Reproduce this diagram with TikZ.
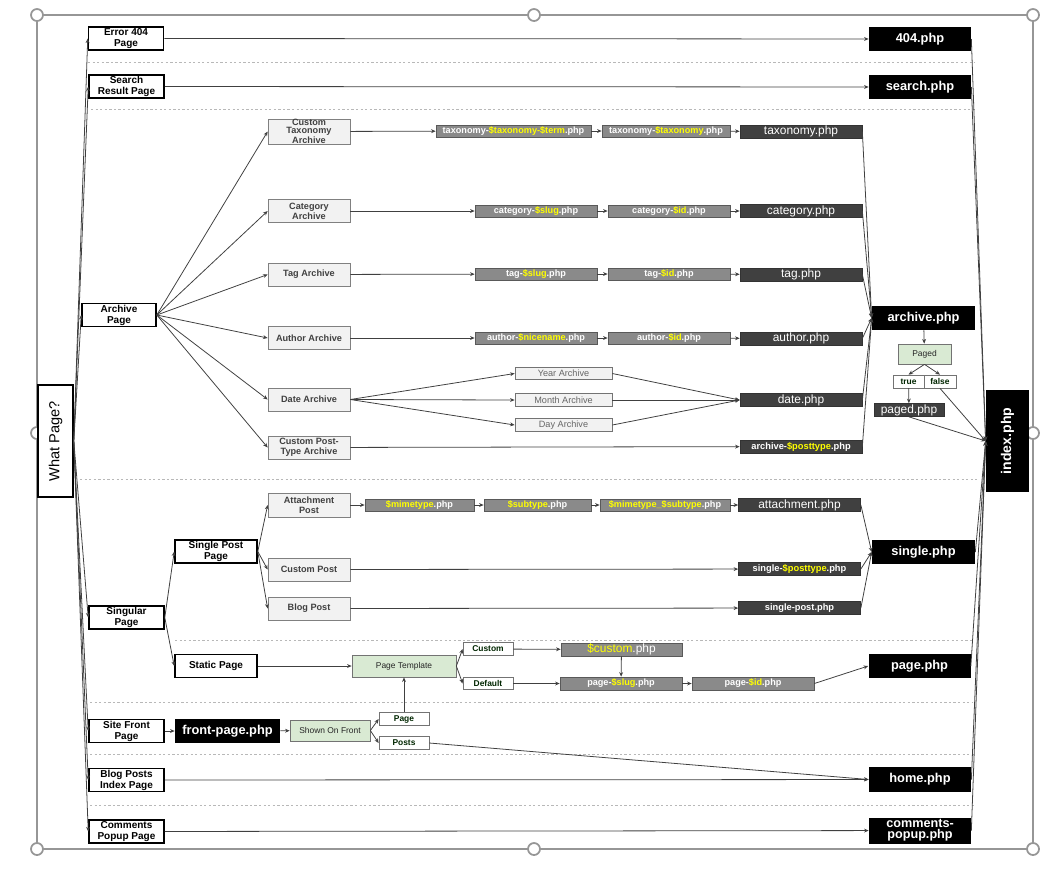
\documentclass[tikz,border=0pt]{standalone}
\usepackage{fontspec}
\setmainfont{Liberation Sans}
\usepackage{xcolor}
\usetikzlibrary{arrows.meta}

\definecolor{tplgray}{RGB}{138,138,138}
\definecolor{filedark}{RGB}{64,64,64}
\definecolor{kindfill}{RGB}{242,242,242}
\definecolor{pagedgreen}{RGB}{217,234,211}
\definecolor{varyellow}{RGB}{255,255,0}
\definecolor{handlegray}{RGB}{150,150,150}

\newcommand{\tplvar}[1]{\textcolor{varyellow}{#1}}

\tikzset{
  pagebox/.style={draw, line width=0.9pt, fill=white, minimum width=1.5cm, minimum height=0.46cm,
    inner sep=0pt, align=center, font=\fontsize{5.7}{6.2}\selectfont\bfseries},
  kindbox/.style={draw=black!50, fill=kindfill, minimum width=1.64cm, minimum height=0.46cm,
    inner sep=0pt, align=center, text=black!75, font=\fontsize{5.2}{5.8}\selectfont\bfseries},
  datebox/.style={draw=black!55, fill=kindfill, minimum width=1.94cm, minimum height=0.25cm,
    inner sep=0pt, text=black!60, font=\fontsize{5.2}{6}\selectfont},
  tplbox/.style={draw=black!65, fill=tplgray, minimum height=0.24cm, inner sep=0pt,
    text=white, font=\fontsize{5.2}{6}\selectfont\bfseries},
  filebox/.style={draw=black!80, fill=filedark, minimum width=2.44cm, minimum height=0.26cm,
    inner sep=0pt, text=white, font=\fontsize{6.8}{7}\selectfont},
  mainbox/.style={fill=black, minimum width=2.04cm, minimum height=0.48cm, inner sep=0pt,
    align=center, text=white, font=\fontsize{7.3}{7}\selectfont\bfseries},
  greenbox/.style={draw=black!55, fill=pagedgreen, inner sep=0pt, text=black!85,
    font=\fontsize{4.8}{5.5}\selectfont},
  optbox/.style={draw=black!55, fill=white, minimum width=1.0cm, minimum height=0.25cm,
    inner sep=0pt, text=green!15!black, font=\fontsize{4.8}{5.5}\selectfont\bfseries},
  wire/.style={->, line width=0.45pt, draw=black!75},
  divider/.style={draw=black!28, line width=0.5pt, dash pattern=on 1.3pt off 1.3pt},
  >={Stealth[length=2.6pt,width=2.2pt]}
}

\begin{document}
\begin{tikzpicture}[x=0.02cm, y=-0.02cm]
    \useasboundingbox (0,0) rectangle (1047,870);

    % Frame with handles
    \draw[handlegray, line width=0.6pt] (37,15) rectangle (1033,849);
    \foreach \hx/\hy in {37/15, 534/15, 1033/15, 37/433, 1033/433, 37/849, 534/849, 1033/849}
        \draw[handlegray, line width=1pt, fill=white] (\hx,\hy) circle (0.12cm);

    % Dividers
    \draw[divider] (88,62) -- (975,62);
    \draw[divider] (91,109) -- (975,109);
    \draw[divider] (80,479) -- (977,479);
    \draw[divider] (175,640) -- (973,640);
    \draw[divider] (90,702) -- (973,702);
    \draw[divider] (90,754) -- (975,754);
    \draw[divider] (90,805) -- (975,805);

    % Page kinds
    \node[pagebox, minimum width=0.7cm, minimum height=2.24cm, font=\fontsize{8.3}{9}\selectfont] (what) at (55.5,441) {\rotatebox{90}{What Page?}};
    \node[pagebox] (err) at (126,38.5) {Error 404\\Page};
    \node[pagebox] (search) at (126.5,86.5) {Search\\Result Page};
    \node[pagebox, minimum width=1.48cm] (arch) at (119,315) {Archive\\Page};
    \node[pagebox] (sing) at (126.5,617.5) {Singular\\Page};
    \node[pagebox, minimum width=1.64cm] (post) at (216,551.5) {Single Post\\Page};
    \node[pagebox, minimum width=1.64cm] (static) at (216,666) {Static Page};
    \node[pagebox] (front) at (126.5,731) {Site Front\\Page};
    \node[pagebox] (blog) at (126.5,780) {Blog Posts\\Index Page};
    \node[pagebox] (comm) at (126.5,831.5) {Comments\\Popup Page};

    % Archive and post kinds
    \node[kindbox, font=\fontsize{5.2}{4.7}\selectfont\bfseries] (ktax) at (309,131.5) {Custom\\Taxonomy\\Archive};
    \node[kindbox] (kcat) at (309,211) {Category\\Archive};
    \node[kindbox] (ktag) at (309,274.5) {Tag Archive};
    \node[kindbox] (kauth) at (309,338) {Author Archive};
    \node[kindbox] (kdate) at (309,399.5) {Date Archive};
    \node[kindbox] (kcpt) at (309,447.5) {Custom Post-\\Type Archive};
    \node[kindbox, minimum height=0.48cm] (katt) at (309,505) {Attachment\\Post};
    \node[kindbox] (kcust) at (309,569.5) {Custom Post};
    \node[kindbox] (kblog) at (309,608.5) {Blog Post};

    % Date archives
    \node[datebox] (year) at (563.5,373.5) {Year Archive};
    \node[datebox] (month) at (563.5,400) {Month Archive};
    \node[datebox] (day) at (563.5,425) {Day Archive};

    % Specific templates
    \node[tplbox, minimum width=3.1cm] (taxterm) at (513.5,131) {taxonomy-\tplvar{\$taxonomy-\$term}.php};
    \node[tplbox, minimum width=2.56cm] (taxonly) at (666,131) {taxonomy-\tplvar{\$taxonomy}.php};
    \node[tplbox, minimum width=2.44cm] (catslug) at (536,211) {category-\tplvar{\$slug}.php};
    \node[tplbox, minimum width=2.44cm] (catid) at (669,211) {category-\tplvar{\$id}.php};
    \node[tplbox, minimum width=2.44cm] (tagslug) at (536,274) {tag-\tplvar{\$slug}.php};
    \node[tplbox, minimum width=2.44cm] (tagid) at (669,274) {tag-\tplvar{\$id}.php};
    \node[tplbox, minimum width=2.44cm] (authnice) at (536,338) {author-\tplvar{\$nicename}.php};
    \node[tplbox, minimum width=2.44cm] (authid) at (669,338) {author-\tplvar{\$id}.php};
    \node[tplbox, minimum width=2.18cm] (mime) at (419.5,505) {\tplvar{\$mimetype}.php};
    \node[tplbox, minimum width=2.14cm] (subt) at (537.5,505) {\tplvar{\$subtype}.php};
    \node[tplbox, minimum width=2.6cm] (mimesub) at (665,505) {\tplvar{\$mimetype\_\$subtype}.php};
    \node[tplbox, minimum width=2.42cm, minimum height=0.26cm, font=\fontsize{6.8}{7}\selectfont] (custphp) at (621.5,649.5) {\tplvar{\$custom}.php};
    \node[tplbox, minimum width=2.44cm, minimum height=0.26cm] (pgslug) at (621,683.5) {page-\tplvar{\$slug}.php};
    \node[tplbox, minimum width=2.44cm, minimum height=0.26cm] (pgid) at (753,683.5) {page-\tplvar{\$id}.php};

    % Type templates
    \node[filebox] (ftax) at (801,131.5) {taxonomy.php};
    \node[filebox] (fcat) at (801,211) {category.php};
    \node[filebox] (ftag) at (801,274.5) {tag.php};
    \node[filebox] (fauth) at (801,338.5) {author.php};
    \node[filebox] (fdate) at (801,400) {date.php};
    \node[filebox, font=\fontsize{5.3}{6}\selectfont\bfseries] (fcpt) at (801,446.5) {archive-\tplvar{\$posttype}.php};
    \node[filebox] (fatt) at (799.5,505) {attachment.php};
    \node[filebox, font=\fontsize{5.3}{6}\selectfont\bfseries] (fsingpt) at (799.5,569) {single-\tplvar{\$posttype}.php};
    \node[filebox, font=\fontsize{5.3}{6}\selectfont\bfseries] (fsingpost) at (799.5,608) {single-post.php};
    \node[filebox, minimum width=1.4cm] (fpaged) at (909,410) {paged.php};

    % Main templates
    \node[mainbox] (p404) at (920,39) {404.php};
    \node[mainbox] (psearch) at (920,87) {search.php};
    \node[mainbox, minimum width=2.06cm] (parch) at (923.5,318) {archive.php};
    \node[mainbox, minimum width=2.06cm] (psingle) at (923.5,552) {single.php};
    \node[mainbox] (ppage) at (919.5,666) {page.php};
    \node[mainbox, minimum height=0.5cm] (phome) at (920,779.5) {home.php};
    \node[mainbox, minimum height=0.52cm, font=\fontsize{7.2}{6.3}\selectfont\bfseries] (pcomm) at (920,830.5) {comments-\\popup.php};
    \node[mainbox, minimum width=2.1cm] (pfront) at (227.5,731) {front-page.php};
    \node[mainbox, minimum width=0.86cm, minimum height=2.04cm, font=\fontsize{8}{9}\selectfont\bfseries] (pindex) at (1007.5,441) {\rotatebox{90}{index.php}};

    % Choices
    \node[greenbox, minimum width=1.06cm, minimum height=0.4cm] (paged) at (924.5,354) {Paged};
    \node[greenbox, minimum width=2.08cm, minimum height=0.44cm] (ptpl) at (404,666) {Page Template};
    \node[greenbox, minimum width=1.6cm, minimum height=0.42cm] (shown) at (330,730.5) {Shown On Front};
    \node[optbox, minimum width=0.62cm, minimum height=0.26cm] (ptrue) at (908.5,381.5) {true};
    \node[optbox, minimum width=0.64cm, minimum height=0.26cm] (pfalse) at (940,381.5) {false};
    \node[optbox] (ocust) at (488,649) {Custom};
    \node[optbox] (odef) at (488,683.5) {Default};
    \node[optbox] (opage) at (404,719) {Page};
    \node[optbox] (oposts) at (404,743) {Posts};

    % What page
    \foreach \t in {err, search, arch, sing, front, blog, comm}
        \draw[wire] (what.east) -- (\t.west);
    \draw[wire] (err) -- (p404);
    \draw[wire] (search) -- (psearch);

    % Archive chains
    \foreach \t in {ktax, kcat, ktag, kauth, kdate, kcpt}
        \draw[wire] (arch.east) -- (\t.west);
    \draw[wire] (ktax) -- (taxterm);
    \draw[wire] (taxterm) -- (taxonly);
    \draw[wire] (taxonly) -- (ftax);
    \draw[wire] (kcat) -- (catslug);
    \draw[wire] (catslug) -- (catid);
    \draw[wire] (catid) -- (fcat);
    \draw[wire] (ktag) -- (tagslug);
    \draw[wire] (tagslug) -- (tagid);
    \draw[wire] (tagid) -- (ftag);
    \draw[wire] (kauth) -- (authnice);
    \draw[wire] (authnice) -- (authid);
    \draw[wire] (authid) -- (fauth);
    \foreach \t in {year, month, day} {
        \draw[wire] (kdate.east) -- (\t.west);
        \draw[wire] (\t.east) -- (fdate.west);
    }
    \draw[wire] (kcpt) -- (fcpt);
    \foreach \f in {ftax, fcat, ftag, fauth, fdate, fcpt}
        \draw[wire] (\f.east) -- (parch.west);

    % Paged
    \draw[wire] (parch) -- (paged);
    \draw[wire] (paged.south) -- (ptrue.north);
    \draw[wire] (paged.south) -- (pfalse.north);
    \draw[wire] (ptrue) -- (fpaged);
    \draw[wire] (fpaged.south) -- (pindex.west);
    \draw[wire] (pfalse.south) -- (pindex.west);

    % Singular chains
    \draw[wire] (sing.east) -- (post.west);
    \draw[wire] (sing.east) -- (static.west);
    \foreach \t in {katt, kcust, kblog}
        \draw[wire] (post.east) -- (\t.west);
    \draw[wire] (katt) -- (mime);
    \draw[wire] (mime) -- (subt);
    \draw[wire] (subt) -- (mimesub);
    \draw[wire] (mimesub) -- (fatt);
    \draw[wire] (kcust) -- (fsingpt);
    \draw[wire] (kblog) -- (fsingpost);
    \foreach \f in {fatt, fsingpt, fsingpost}
        \draw[wire] (\f.east) -- (psingle.west);

    % Static page
    \draw[wire] (static) -- (ptpl);
    \draw[wire] (ptpl.east) -- (ocust.west);
    \draw[wire] (ptpl.east) -- (odef.west);
    \draw[wire] (ocust) -- (custphp);
    \draw[wire] (custphp) -- (pgslug);
    \draw[wire] (odef) -- (pgslug);
    \draw[wire] (pgslug) -- (pgid);
    \draw[wire] (pgid.east) -- (ppage.west);

    % Front page
    \draw[wire] (front) -- (pfront);
    \draw[wire] (pfront) -- (shown);
    \draw[wire] (shown.east) -- (opage.west);
    \draw[wire] (shown.east) -- (oposts.west);
    \draw[wire] (opage) -- (ptpl);
    \draw[wire] (oposts.east) -- (phome.west);
    \draw[wire] (blog) -- (phome);
    \draw[wire] (comm) -- (pcomm);

    % Fallback to index
    \foreach \f in {p404, psearch, psingle, ppage, phome, pcomm}
        \draw[wire] (\f.east) -- (pindex.west);
\end{tikzpicture}
\end{document}
